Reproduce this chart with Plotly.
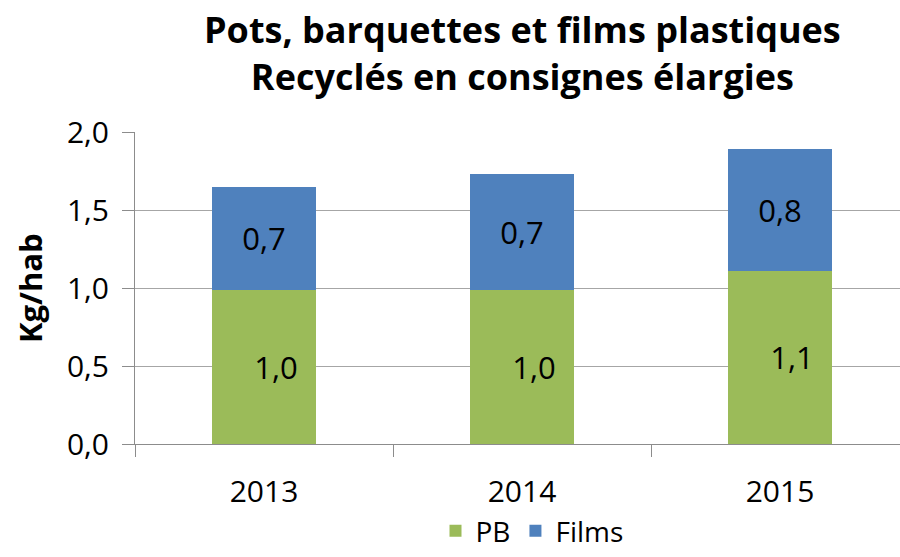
import plotly.graph_objects as go

years = ["2013", "2014", "2015"]
pb = [0.99, 0.99, 1.11]
films = [0.66, 0.74, 0.78]
y_ticks = [0.0, 0.5, 1.0, 1.5, 2.0]

FONT = "Open Sans"
W, H = 900, 557
L, T, B = 135, 132, 113
PW = W - L
PH = H - T - B

def py(fig_px):
    """figure-pixel y (from top) to paper coordinate"""
    return (H - B - fig_px) / PH

def px(fig_px):
    return (fig_px - L) / PW

NB = "\u00a0"
fig = go.Figure()
for name, vals, col, pre in [("PB", pb, "#9BBB59", NB * 3), ("Films", films, "#4F81BD", "")]:
    fig.add_trace(go.Bar(name=name, x=years, y=vals, marker=dict(color=col, line=dict(width=0)),
                         texttemplate=pre + "%{y:.1f}", textposition="inside", insidetextanchor="middle",
                         textfont=dict(size=31, color="black", family=FONT), width=0.4))

fig.update_layout(
    barmode="stack",
    separators=", ",
    width=W, height=H,
    margin=dict(l=L, r=0, t=T, b=B, autoexpand=False),
    plot_bgcolor="white", paper_bgcolor="white",
    font=dict(family=FONT, color="black"),
    showlegend=True,
    legend=dict(orientation="h", x=px(532), xanchor="center", xref="paper",
                y=py(H - 1), yanchor="bottom", font=dict(size=28, family=FONT),
                traceorder="normal", bgcolor="rgba(0,0,0,0)"),
    annotations=[
        dict(text="<b>Pots, barquettes et films plastiques<br>Recyclés en consignes élargies</b>",
             x=px(522), y=py(53), xref="paper", yref="paper", showarrow=False,
             xanchor="center", yanchor="middle", align="center",
             font=dict(size=36, family=FONT, color="black")),
        dict(text="<b>Kg/hab</b>", textangle=-90, x=px(30), y=0.5,
             xref="paper", yref="paper", showarrow=False, xanchor="center", yanchor="middle",
             font=dict(size=31, family=FONT, color="black")),
    ],
)
fig.update_xaxes(range=[-0.5, 2.465], showline=True, linecolor="#8c8c8c", linewidth=1,
                 ticks="outside", tickson="boundaries", ticklen=12, tickcolor="#8c8c8c",
                 tickfont=dict(size=30, family=FONT), showgrid=False, ticklabelstandoff=21)
fig.update_yaxes(range=[0, 2], tickvals=y_ticks, tickformat=".1f", showline=True, linecolor="#8c8c8c",
                 linewidth=1, ticks="outside", ticklen=12, tickcolor="#8c8c8c",
                 gridcolor="#a6a6a6", gridwidth=1, tickfont=dict(size=30, family=FONT),
                 zeroline=False, ticklabelstandoff=7)
fig.write_html("out.html", config={"displayModeBar": False},
               post_script="document.body.style.margin='0';document.body.style.overflow='hidden';")
